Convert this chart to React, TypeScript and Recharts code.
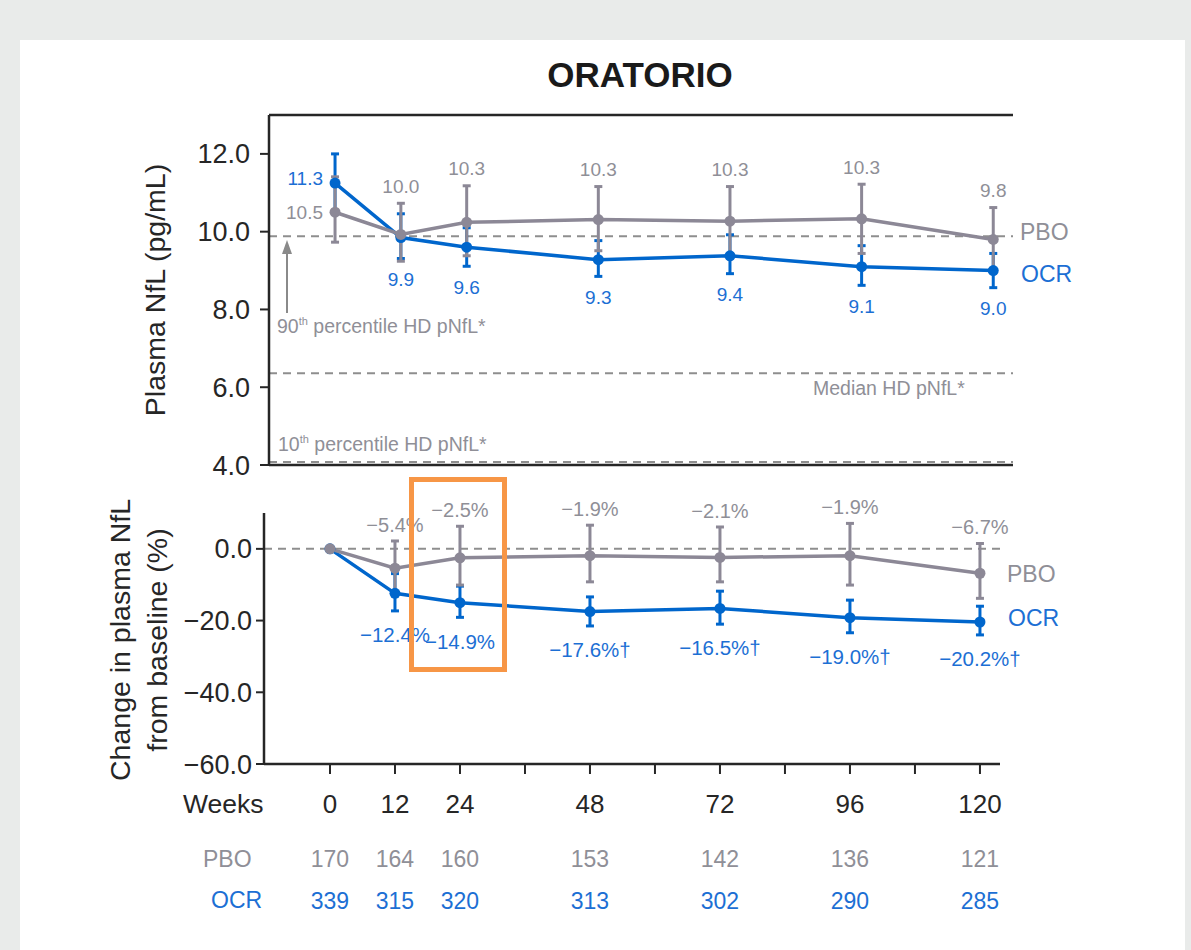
import { ErrorBar, Line, LineChart, ReferenceLine, XAxis, YAxis } from 'recharts';

const weeks = [0, 12, 24, 48, 72, 96, 120];
const tickWeeks = [0, 12, 24, 36, 48, 60, 72, 84, 96, 108, 120];

// upper panel, plasma NfL (pg/mL)
const nflPbo = [10.5, 9.93, 10.24, 10.31, 10.27, 10.33, 9.8];
const nflPboLo = [9.73, 9.24, 9.38, 9.51, 9.42, 9.44, 9.0];
const nflPboHi = [11.41, 10.73, 11.18, 11.16, 11.16, 11.22, 10.62];
const nflOcr = [11.25, 9.85, 9.6, 9.28, 9.38, 9.1, 9.0];
const nflOcrLo = [10.5, 9.31, 9.11, 8.85, 8.92, 8.62, 8.56];
const nflOcrHi = [12.0, 10.46, 10.1, 9.77, 9.92, 9.64, 9.44];
const nflPboText = ['10.5', '10.0', '10.3', '10.3', '10.3', '10.3', '9.8'];
const nflOcrText = ['11.3', '9.9', '9.6', '9.3', '9.4', '9.1', '9.0'];

// healthy donor reference levels
const hd90 = 9.88;
const hdMedian = 6.36;
const hd10 = 4.08;

// lower panel, change from baseline (%)
const pctPbo = [0, -5.4, -2.5, -1.9, -2.4, -1.9, -6.8];
const pctPboLo = [0, -12, -10.1, -9.2, -9.2, -10.1, -13.8];
const pctPboHi = [0, 2.2, 6.3, 6.6, 6.1, 7.1, 1.5];
const pctOcr = [0, -12.4, -15.0, -17.5, -16.6, -19.2, -20.4];
const pctOcrLo = [0, -17.3, -19.1, -21.5, -21.0, -23.4, -24.0];
const pctOcrHi = [0, -6.9, -10.4, -13.4, -11.8, -14.3, -16.0];
const pctPboText = ['', '\u22125.4%', '\u22122.5%', '\u22121.9%', '\u22122.1%', '\u22121.9%', '\u22126.7%'];
const pctOcrText = ['', '\u221212.4%', '\u221214.9%', '\u221217.6%\u2020', '\u221216.5%\u2020', '\u221219.0%\u2020', '\u221220.2%\u2020'];

// patients at each visit
const nPbo = [170, 164, 160, 153, 142, 136, 121];
const nOcr = [339, 315, 320, 313, 302, 290, 285];

const FONT = '"Liberation Sans", Arial, Helvetica, sans-serif';
const BLUE = '#0066cc';
const BLUE_TEXT = '#1c6fd4';
const GREY = '#8c8896';
const GREY_TEXT = '#8f8f97';
const DASH = '#8e8e8e';
const AXIS = '#262626';

const nflData = weeks.map((week, i) => ({
  week,
  pbo: nflPbo[i],
  pboErr: [nflPbo[i] - nflPboLo[i], nflPboHi[i] - nflPbo[i]],
  pboTag: i === 0 ? nflPbo[i] : nflPboHi[i],
  ocr: nflOcr[i],
  ocrErr: [nflOcr[i] - nflOcrLo[i], nflOcrHi[i] - nflOcr[i]],
  ocrTag: i === 0 ? nflOcr[i] : nflOcrLo[i],
}));

const pctData = weeks.map((week, i) => ({
  week,
  pbo: pctPbo[i],
  pboErr: [pctPbo[i] - pctPboLo[i], pctPboHi[i] - pctPbo[i]],
  pboTag: pctPboHi[i],
  ocr: pctOcr[i],
  ocrErr: [pctOcr[i] - pctOcrLo[i], pctOcrHi[i] - pctOcr[i]],
  ocrTag: pctOcrLo[i],
}));

const fmtPct = (v: number) => (v < 0 ? '\u2212' + Math.abs(v).toFixed(1) : v.toFixed(1));

function tagDot(texts: string[], color: string, dy: number, firstDy: number | null, size = 19) {
  return (props: any) => {
    const { cx, cy, index } = props;
    const text = texts[index];
    if (!text || cx == null || cy == null) return <g key={`t-${index}`} />;
    const left = index === 0 && firstDy !== null;
    return (
      <text
        key={`t-${index}`}
        x={left ? cx - 12 : cx}
        y={cy + (left ? (firstDy as number) : dy)}
        dy='0.35em'
        textAnchor={left ? 'end' : 'middle'}
        fill={color}
        fontSize={size}
        fontFamily={FONT}
      >
        {text}
      </text>
    );
  };
}

// week label plus the patient counts underneath it
function WeekTick(props: any) {
  const { x, y, payload } = props;
  const i = weeks.indexOf(payload?.value);
  if (i < 0) return <g />;
  return (
    <g fontFamily={FONT} textAnchor='middle'>
      <text x={x} y={y + 39} fontSize={26} fill={AXIS}>{weeks[i]}</text>
      <text x={x} y={y + 93} fontSize={23} fill={GREY_TEXT}>{nPbo[i]}</text>
      <text x={x} y={y + 134.5} fontSize={23} fill={BLUE_TEXT}>{nOcr[i]}</text>
    </g>
  );
}

const dotStyle = (c: string) => ({ r: 5.5, fill: c, stroke: c, strokeWidth: 0 });
const tickStyle = { fill: AXIS, fontSize: 27, fontFamily: FONT };

export default function App() {
  return (
    <div style={{ position: 'absolute', left: 0, top: 0, width: 1191, height: 950, background: '#e9ebea', overflow: 'hidden' }}>
      <div style={{ position: 'absolute', left: 20, top: 40, width: 1165, height: 910, background: '#ffffff' }} />

      <div style={{ position: 'absolute', left: 0, top: 0 }}>
        <LineChart width={1191} height={500} data={nflData} margin={{ top: 115, right: 178, bottom: 0, left: 0 }}>
          <XAxis
            dataKey='week'
            type='number'
            domain={[-12.04, 123.6]}
            tick={false}
            tickLine={false}
            height={35}
            axisLine={{ stroke: AXIS, strokeWidth: 2.5 }}
          />
          <YAxis
            type='number'
            domain={[4, 13]}
            ticks={[4, 6, 8, 10, 12]}
            tickFormatter={(v: number) => v.toFixed(1)}
            width={269}
            tickSize={9}
            tickMargin={10}
            tick={tickStyle}
            axisLine={{ stroke: AXIS, strokeWidth: 2.5 }}
            tickLine={{ stroke: AXIS, strokeWidth: 2 }}
          />
          <ReferenceLine y={13} stroke={AXIS} strokeWidth={2.5} />
          <ReferenceLine y={hd90} stroke={DASH} strokeWidth={2} strokeDasharray='8 6' />
          <ReferenceLine y={hdMedian} stroke={DASH} strokeWidth={2} strokeDasharray='8 6' />
          <ReferenceLine y={hd10} stroke={DASH} strokeWidth={2} strokeDasharray='8 6' />
          <Line dataKey='ocr' stroke={BLUE} strokeWidth={3.5} dot={dotStyle(BLUE)} activeDot={false} isAnimationActive={false}>
            <ErrorBar dataKey='ocrErr' direction='y' width={4} strokeWidth={3} stroke={BLUE} isAnimationActive={false} />
          </Line>
          <Line dataKey='pbo' stroke={GREY} strokeWidth={3.5} dot={dotStyle(GREY)} activeDot={false} isAnimationActive={false}>
            <ErrorBar dataKey='pboErr' direction='y' width={4} strokeWidth={3} stroke={GREY} isAnimationActive={false} />
          </Line>
          <Line dataKey='pboTag' stroke='none' dot={tagDot(nflPboText, GREY_TEXT, -17, 0)} activeDot={false} isAnimationActive={false} legendType='none' />
          <Line dataKey='ocrTag' stroke='none' dot={tagDot(nflOcrText, BLUE_TEXT, 21, -5)} activeDot={false} isAnimationActive={false} legendType='none' />
        </LineChart>
      </div>

      <div style={{ position: 'absolute', left: 0, top: 480 }}>
        <LineChart width={1191} height={441} data={pctData} margin={{ top: 33, right: 191, bottom: 0, left: 0 }}>
          <XAxis
            dataKey='week'
            type='number'
            domain={[-12.18, 123.7]}
            ticks={tickWeeks}
            interval={0}
            height={157}
            tickSize={10}
            tickMargin={0}
            tick={<WeekTick />}
            axisLine={{ stroke: AXIS, strokeWidth: 2.5 }}
            tickLine={{ stroke: AXIS, strokeWidth: 2 }}
          />
          <YAxis
            type='number'
            domain={[-60, 10]}
            ticks={[-60, -40, -20, 0]}
            tickFormatter={fmtPct}
            width={264}
            tickSize={8}
            tickMargin={4}
            tick={tickStyle}
            axisLine={{ stroke: AXIS, strokeWidth: 2.5 }}
            tickLine={{ stroke: AXIS, strokeWidth: 2 }}
          />
          <ReferenceLine y={0} stroke={DASH} strokeWidth={2} strokeDasharray='8 6' />
          <Line dataKey='ocr' stroke={BLUE} strokeWidth={3.5} dot={dotStyle(BLUE)} activeDot={false} isAnimationActive={false}>
            <ErrorBar dataKey='ocrErr' direction='y' width={4} strokeWidth={3} stroke={BLUE} isAnimationActive={false} />
          </Line>
          <Line dataKey='pbo' stroke={GREY} strokeWidth={3.5} dot={dotStyle(GREY)} activeDot={false} isAnimationActive={false}>
            <ErrorBar dataKey='pboErr' direction='y' width={4} strokeWidth={3} stroke={GREY} isAnimationActive={false} />
          </Line>
          <Line dataKey='pboTag' stroke='none' dot={tagDot(pctPboText, GREY_TEXT, -16, null, 20)} activeDot={false} isAnimationActive={false} legendType='none' />
          <Line dataKey='ocrTag' stroke='none' dot={tagDot(pctOcrText, BLUE_TEXT, 24, null, 20.5)} activeDot={false} isAnimationActive={false} legendType='none' />
        </LineChart>
      </div>

      <svg width={1191} height={950} style={{ position: 'absolute', left: 0, top: 0, pointerEvents: 'none' }} fontFamily={FONT}>
        <text x={640} y={87} textAnchor='middle' fontSize={35} fontWeight='bold' fill='#1a1a1a'>ORATORIO</text>

        <text transform='translate(155,290) rotate(-90)' textAnchor='middle' dy='0.35em' fontSize={28.5} fill={AXIS}>
          Plasma NfL (pg/mL)
        </text>
        <text transform='translate(120,640) rotate(-90)' textAnchor='middle' dy='0.35em' fontSize={28.5} fill={AXIS}>
          Change in plasma NfL
        </text>
        <text transform='translate(157,640) rotate(-90)' textAnchor='middle' dy='0.35em' fontSize={28.5} fill={AXIS}>
          from baseline (%)
        </text>

        <line x1={287} y1={313} x2={287} y2={252} stroke='#8a8a8a' strokeWidth={2} />
        <polygon points='287,240 282,254 292,254' fill='#8a8a8a' />
        <text x={277} y={333} fontSize={19.5} fill={GREY_TEXT}>
          90<tspan fontSize={11} dy={-8}>th</tspan><tspan dy={8}> percentile HD pNfL*</tspan>
        </text>
        <text x={813} y={395} fontSize={19.5} fill={GREY_TEXT}>Median HD pNfL*</text>
        <text x={278} y={451} fontSize={19.5} fill={GREY_TEXT}>
          10<tspan fontSize={11} dy={-8}>th</tspan><tspan dy={8}> percentile HD pNfL*</tspan>
        </text>

        <text x={1020} y={240} fontSize={23} fill={GREY_TEXT}>PBO</text>
        <text x={1021} y={282} fontSize={23} fill={BLUE_TEXT}>OCR</text>
        <text x={1007} y={582} fontSize={23} fill={GREY_TEXT}>PBO</text>
        <text x={1008} y={626} fontSize={23} fill={BLUE_TEXT}>OCR</text>

        <rect x={411.5} y={479.5} width={93} height={190} fill='none' stroke='#f79646' strokeWidth={5} />

        <text x={183} y={813} fontSize={26.5} fill={AXIS}>Weeks</text>
        <text x={203} y={867} fontSize={23} fill={GREY_TEXT}>PBO</text>
        <text x={211} y={908} fontSize={23} fill={BLUE_TEXT}>OCR</text>
      </svg>
    </div>
  );
}
